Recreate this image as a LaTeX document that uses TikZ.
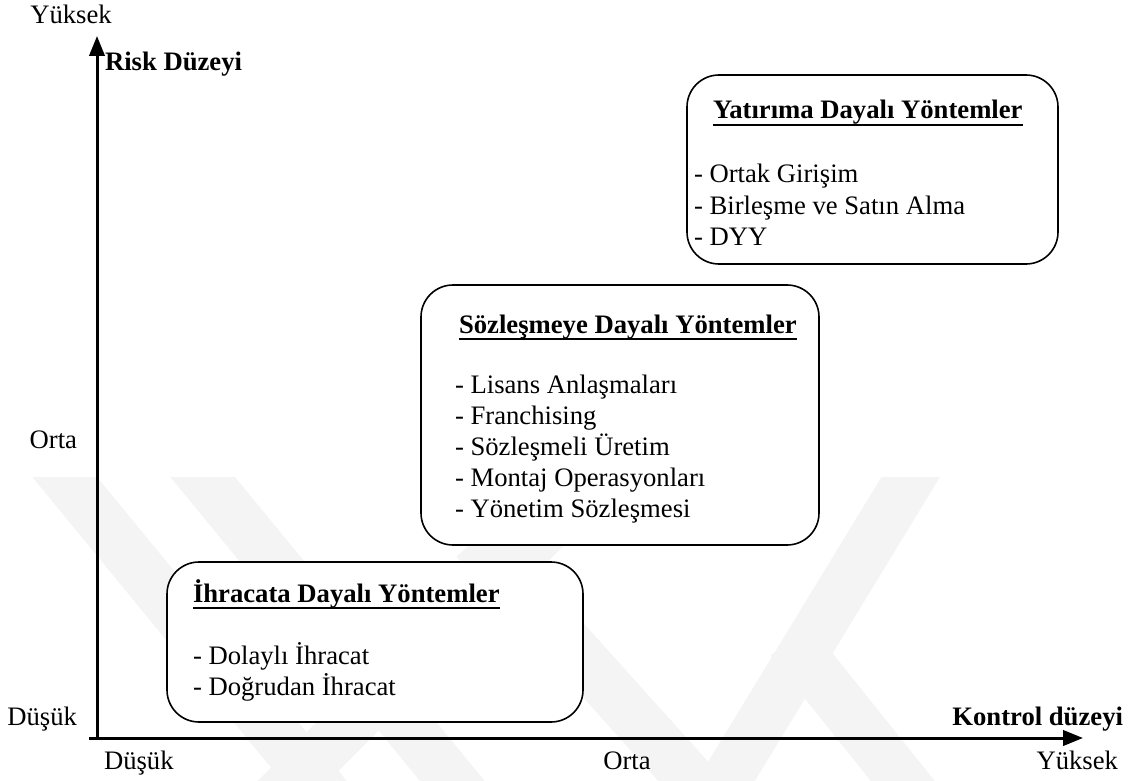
\documentclass[tikz,border=0pt]{standalone}
\usepackage{fontspec}
\setmainfont{Liberation Serif}
\usetikzlibrary{arrows.meta,calc,fit}
\definecolor{wmgray}{gray}{0.955}
\begin{document}
\begin{tikzpicture}[x=0.75pt,y=-0.75pt,
  every node/.style={inner sep=0pt,outer sep=0pt,font=\fontsize{20}{23.25}\selectfont},
  boldlabel/.style={font=\fontsize{20}{23.25}\selectfont\bfseries},
  methodbox/.style={draw,fill=white,line width=1.2pt,rounded corners=24pt,inner sep=0pt},
  boxtitle/.style={anchor=base west,font=\fontsize{20}{23.25}\selectfont\bfseries},
  boxitem/.style={anchor=base west},
  uline/.style={line width=1.4pt},
  axis/.style={line width=2.25pt,-{Triangle[length=15pt,width=11.5pt]}},
  wmband/.style={wmgray,line width=37.5pt}]
\useasboundingbox (0,0) rectangle (1132,781);

% faint background emblem
\begin{scope}
  \clip (0,477) rectangle (1132,781);
  \draw[wmband] (40,447) -- (330,800);
  \draw[wmband] (178,447) -- (468,800);
  \draw[wmband] (475,540) -- (709,800);
  \draw[wmband] (790,640) -- (918,800);
  \draw[wmband] (929,447) -- (714,800);
  \draw[wmband] (274,800) -- (604,470);
\end{scope}

% axes
\coordinate (origin) at (97,738);
\coordinate (xstart) at (89,738);
\coordinate (ytip) at (97,36);
\coordinate (xtip) at (1083,738);
\draw[axis] (origin) -- (ytip);
\draw[axis] (xstart) -- (xtip);

% axis labels
\node[anchor=base] (ytop) at (71,24) {Yüksek};
\node[boldlabel,anchor=base west] (risk) at (105,71) {Risk Düzeyi};
\node[anchor=base east] (ymid) at (77,448) {Orta};
\node[anchor=base east] (ylow) at (77,725) {Düşük};
\node[anchor=base west] (xlow) at (104,769) {Düşük};
\node[anchor=base] (xmid) at (627,769) {Orta};
\node[anchor=base east] (xhigh) at (1118,769) {Yüksek};
\node[boldlabel,anchor=base east] (kontrol) at (1123,725) {Kontrol düzeyi};

% method groups
\node[methodbox,fit={(687,75) (1058,264)}] (ybox) {};
\node[methodbox,fit={(421,285) (819,545)}] (sbox) {};
\node[methodbox,fit={(167,562) (583,722)}] (ibox) {};

% investment based
\node[boxtitle] (yt) at (713,119) {Yatırıma Dayalı Yöntemler};
\draw[uline] ($(yt.base west)+(0,6)$) -- ($(yt.base east)+(0,6)$);
\node[boxitem] (y1) at (694,183) {- Ortak Girişim};
\node[boxitem] (y2) at (694,214.5) {- Birleşme ve Satın Alma};
\node[boxitem] (y3) at (694,246) {- DYY};

% contract based
\node[boxtitle] (st) at (459,333) {Sözleşmeye Dayalı Yöntemler};
\draw[uline] ($(st.base west)+(0,6)$) -- ($(st.base east)+(0,6)$);
\node[boxitem] (s1) at (455,393) {- Lisans Anlaşmaları};
\node[boxitem] (s2) at (455,424) {- Franchising};
\node[boxitem] (s3) at (455,455) {- Sözleşmeli Üretim};
\node[boxitem] (s4) at (455,486) {- Montaj Operasyonları};
\node[boxitem] (s5) at (455,517) {- Yönetim Sözleşmesi};

% export based
\node[boxtitle] (it) at (193,602) {İhracata Dayalı Yöntemler};
\draw[uline] ($(it.base west)+(0,6)$) -- ($(it.base east)+(0,6)$);
\node[boxitem] (i1) at (193,664) {- Dolaylı İhracat};
\node[boxitem] (i2) at (193,695) {- Doğrudan İhracat};
\end{tikzpicture}
\end{document}
